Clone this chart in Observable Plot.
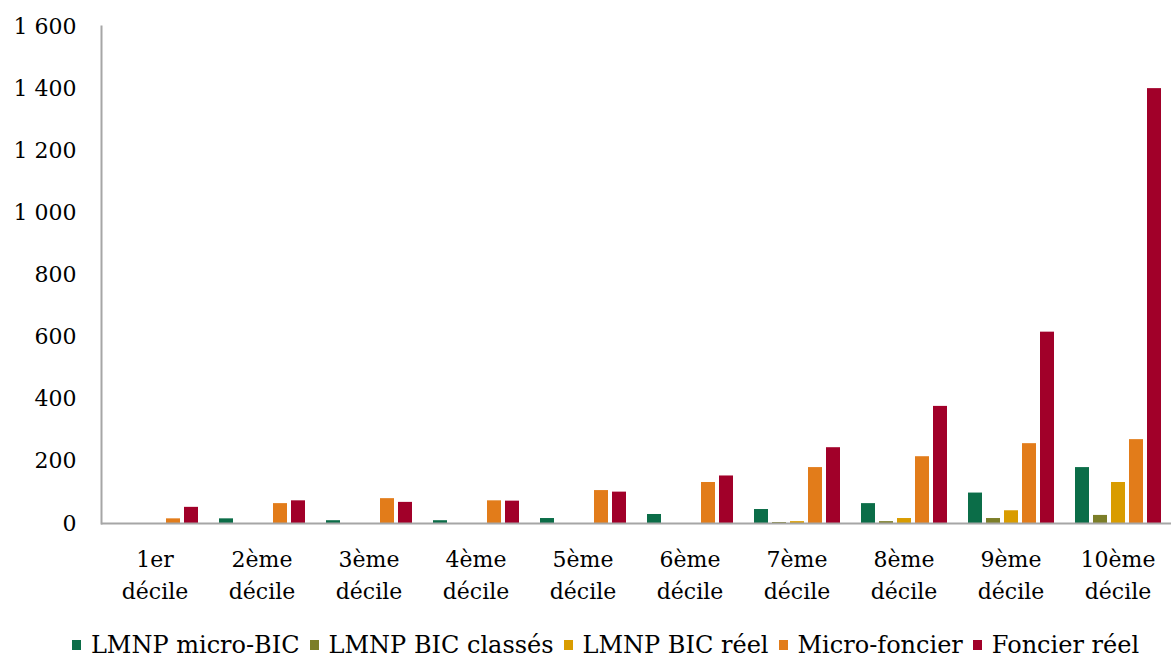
<!DOCTYPE html>
<html><head><meta charset="utf-8">
<script src="https://cdn.jsdelivr.net/npm/d3@7"></script>
<script src="https://cdn.jsdelivr.net/npm/@observablehq/plot@0.6"></script>
<style>
html,body{margin:0;padding:0;background:#fff;}
body{font-family:"DejaVu Serif",serif;width:1171px;}
#legend{display:flex;justify-content:center;align-items:center;height:44px;margin-top:8px;font-size:24px;color:#000;padding-left:40px;}
.item{display:flex;align-items:center;margin:0 5px;}
.sw{width:9px;height:10px;margin-right:10px;}
</style></head><body>
<div id="chart"></div>
<div id="legend"></div>
<script>
const deciles = ["1er décile","2ème décile","3ème décile","4ème décile","5ème décile","6ème décile","7ème décile","8ème décile","9ème décile","10ème décile"];
const seriesNames = ["LMNP micro-BIC","LMNP BIC classés","LMNP BIC réel","Micro-foncier","Foncier réel"];
const lmnpMicroBic   = [0, 15, 9, 9, 16, 29, 45, 64, 98, 180];
const lmnpBicClasses = [0, 0, 0, 0, 0, 0, 3, 6, 16, 26];
const lmnpBicReel    = [0, 0, 0, 0, 0, 0, 6, 16, 41, 132];
const microFoncier   = [15, 64, 80, 73, 106, 132, 180, 215, 257, 270];
const foncierReel    = [52, 73, 68, 72, 101, 153, 244, 377, 616, 1400];
const yTicks = [0, 200, 400, 600, 800, 1000, 1200, 1400, 1600];
const colors = ["#0b6d48", "#7c7e28", "#d99c00", "#e27c1a", "#a10029"];

const seriesValues = [lmnpMicroBic, lmnpBicClasses, lmnpBicReel, microFoncier, foncierReel];
const data = deciles.flatMap((d, i) => seriesNames.map((s, j) => ({decile: d, serie: s, value: seriesValues[j][i]})));

const fmt = v => d3.format(",")(v).replace(/,/g, "\u00a0");
const axisColor = "#a6a6a6";

const chart = Plot.plot({
  width: 1171, height: 615,
  marginLeft: 101, marginRight: 0, marginTop: 26, marginBottom: 92,
  style: {fontFamily: "DejaVu Serif", fontSize: "22px", color: "#000", background: "#fff", overflow: "visible"},
  fx: {domain: deciles, padding: 0, label: null},
  x: {domain: seriesNames, paddingInner: 0.23, paddingOuter: 0.49, axis: null},
  y: {domain: [0, 1600], label: null},
  color: {domain: seriesNames, range: colors},
  marks: [
    Plot.barY(data, {fx: "decile", x: "serie", y: "value", fill: "serie"}),
    Plot.ruleY([0], {stroke: axisColor, strokeWidth: 2}),
    Plot.frame({anchor: "left", facetAnchor: "left", stroke: axisColor, strokeWidth: 2}),
    Plot.axisY({ticks: yTicks, tickSize: 0, tickPadding: 25, tickFormat: fmt, label: null, fontSize: 22, fill: "#000"}),
    Plot.axisFx({anchor: "bottom", tickSize: 0, tickPadding: 21, tickFormat: d => d.replace(" ", "\n"), label: null, fontSize: 22, lineHeight: 1.45, fill: "#000"})
  ]
});
document.getElementById("chart").appendChild(chart);

const legend = document.getElementById("legend");
seriesNames.forEach((s, i) => {
  const it = document.createElement("div");
  it.className = "item";
  const sw = document.createElement("span");
  sw.className = "sw";
  sw.style.background = colors[i];
  const t = document.createElement("span");
  t.textContent = s;
  it.appendChild(sw); it.appendChild(t);
  legend.appendChild(it);
});
</script>
</body></html>
